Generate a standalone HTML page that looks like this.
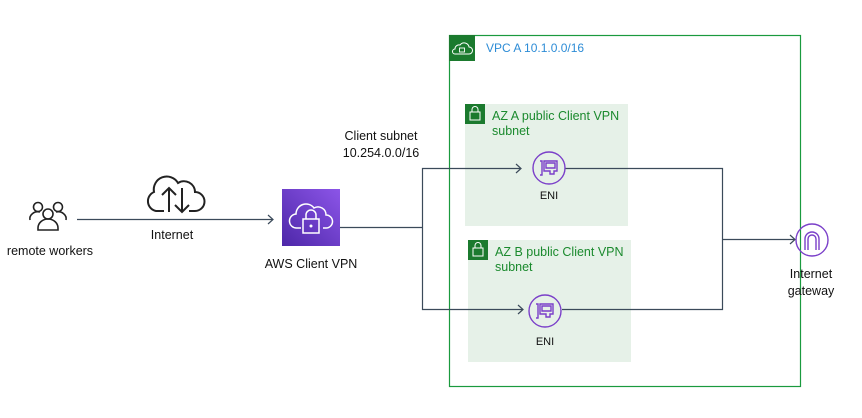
<!DOCTYPE html>
<html><head><meta charset="utf-8"><style>
html,body{margin:0;padding:0;background:#fff;}
svg{display:block;}
text{font-family:"Liberation Sans",sans-serif;}
</style></head><body>
<svg width="862" height="418" viewBox="0 0 862 418" xmlns="http://www.w3.org/2000/svg">
<defs>
<linearGradient id="pg" x1="0" y1="1" x2="1" y2="0"><stop offset="0" stop-color="#4d27a8"/><stop offset="1" stop-color="#8c55e8"/></linearGradient>
</defs>
<!-- VPC -->
<rect x="449.5" y="35.5" width="351" height="351" fill="none" stroke="#1a9a3e" stroke-width="1.2"/>
<rect x="449" y="35" width="26" height="26" fill="#1b7a2e"/>
<path d="M455 54 h14 a3.5 3.5 0 0 0 0-7 a5 5 0 0 0-9-2 a4 4 0 0 0-5 4 a2.5 2.5 0 0 0 0 5z" fill="none" stroke="#fff" stroke-width="1"/>
<rect x="459.5" y="48" width="5" height="4" fill="none" stroke="#fff" stroke-width="0.9"/>
<text x="486" y="52" font-size="12" fill="#2d8cd6">VPC A 10.1.0.0/16</text>
<!-- AZ A -->
<rect x="465" y="104" width="163" height="122" fill="#e6f1e8"/>
<rect x="465" y="104" width="20" height="20" fill="#1b7a2e"/>
<rect x="470" y="112" width="10" height="8" fill="none" stroke="#fff" stroke-width="1"/>
<path d="M472 112 v-2.5 a3 3 0 0 1 6 0 v2.5" fill="none" stroke="#fff" stroke-width="1"/>
<text x="492" y="120" font-size="12.5" fill="#1b8a2e">AZ A public Client VPN</text>
<text x="492" y="135" font-size="12.5" fill="#1b8a2e">subnet</text>
<!-- AZ B -->
<rect x="468" y="240" width="163" height="122" fill="#e6f1e8"/>
<rect x="468" y="240" width="20" height="20" fill="#1b7a2e"/>
<rect x="473" y="248" width="10" height="8" fill="none" stroke="#fff" stroke-width="1"/>
<path d="M475 248 v-2.5 a3 3 0 0 1 6 0 v2.5" fill="none" stroke="#fff" stroke-width="1"/>
<text x="495" y="256" font-size="12.5" fill="#1b8a2e">AZ B public Client VPN</text>
<text x="495" y="271" font-size="12.5" fill="#1b8a2e">subnet</text>
<!-- lines -->
<g stroke="#3b4a5a" stroke-width="1.2" fill="none">
<path d="M77 219.5 H273"/><path d="M268 215 l5 4.5 -5 4.5"/>
<path d="M340 227.5 H422.5"/>
<path d="M520 168.5 H422.5 V309.5 H523"/>
<path d="M516 164 l5 4.5 -5 4.5"/><path d="M518 305 l5 4.5 -5 4.5"/>
<path d="M565 168.5 H722.5 V309.5 H562"/>
<path d="M722.5 239.5 H795"/><path d="M790 235 l5 4.5 -5 4.5"/>
</g>
<!-- people -->
<g fill="none" stroke="#222" stroke-width="1.6">
<circle cx="38" cy="207" r="4.5"/><path d="M30 220 a8 7 0 0 1 10-8"/>
<circle cx="58" cy="207" r="4.5"/><path d="M66 220 a8 7 0 0 0-10-8"/>
<circle cx="48" cy="214" r="5"/><path d="M38 230 v-2 a10 9 0 0 1 20 0 v2 z"/>
</g>
<text x="50" y="255" font-size="12.5" fill="#111" text-anchor="middle">remote workers</text>
<!-- cloud -->
<g fill="none" stroke="#222" stroke-width="2">
<path d="M164 211 h-8 a10 10 0 0 1 -2 -19 a13 13 0 0 1 24 -9 a11 11 0 0 1 17 9 a9.5 9.5 0 0 1 0 19 h-6"/>
<path d="M169 212 v-24 M162 195 l7-7 7 7"/>
<path d="M182 188 v24 M175 205 l7 7 7-7"/>
</g>
<text x="172" y="239" font-size="12.5" fill="#111" text-anchor="middle">Internet</text>
<!-- client vpn -->
<rect x="282" y="189" width="58" height="57" fill="url(#pg)"/>
<path d="M301 228 h-4 a7 7 0 0 1 -1 -14 a10 10 0 0 1 18 -6 a8 8 0 0 1 12 7 a6.5 6.5 0 0 1 0 13 h-3" fill="none" stroke="#fff" stroke-width="1.5"/>
<rect x="303" y="219" width="16" height="14" fill="none" stroke="#fff" stroke-width="1.5"/>
<path d="M306 219 v-4 a5 5 0 0 1 10 0 v4" fill="none" stroke="#fff" stroke-width="1.5"/>
<circle cx="311" cy="226" r="1.5" fill="#fff"/>
<text x="311" y="268" font-size="12.5" fill="#111" text-anchor="middle">AWS Client VPN</text>
<text x="381" y="140" font-size="12.5" fill="#111" text-anchor="middle">Client subnet</text>
<text x="381" y="157" font-size="12.5" fill="#111" text-anchor="middle">10.254.0.0/16</text>
<!-- ENIs -->
<g fill="none" stroke="#7a3fc9" stroke-width="1.4">
<circle cx="549" cy="168" r="16"/>
<path d="M540 161 h2 v14 h-2 M544 161 h13 v10 h-3 v3 h-4 v-3 h-6 z M546 163 h9 v5 h-9z"/>
<circle cx="545" cy="311" r="16"/>
<path d="M536 304 h2 v14 h-2 M540 304 h13 v10 h-3 v3 h-4 v-3 h-6 z M542 306 h9 v5 h-9z"/>
<circle cx="812" cy="240" r="16"/>
<path d="M805 250 v-11 a7 7 0 0 1 14 0 v11 M808 250 v-11 a4 4 0 0 1 8 0 v11"/>
</g>
<text x="549" y="199" font-size="11" fill="#111" text-anchor="middle">ENI</text>
<text x="545" y="345" font-size="11" fill="#111" text-anchor="middle">ENI</text>
<text x="811" y="278" font-size="12.5" fill="#111" text-anchor="middle">Internet</text>
<text x="811" y="295" font-size="12.5" fill="#111" text-anchor="middle">gateway</text>
</svg>
</body></html>
